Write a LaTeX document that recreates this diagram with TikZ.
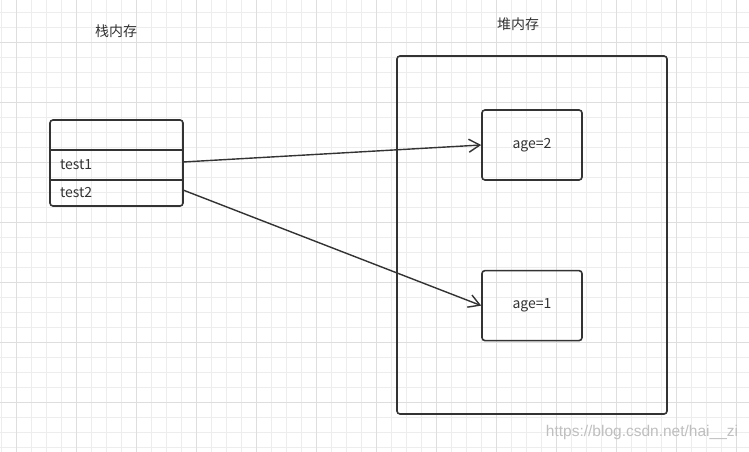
\documentclass[tikz,border=0pt]{standalone}
\usepackage{fontspec}
\setmainfont{Noto Sans CJK SC}
\newfontfamily\urlfont{Liberation Sans}
\usetikzlibrary{arrows.meta,positioning,fit}

\begin{document}
\begin{tikzpicture}[
    x=1pt, y=-1pt,
    font=\fontsize{14}{16}\selectfont,
    minorline/.style={draw=black!7, line width=0.8pt},
    majorline/.style={draw=black!13, line width=0.9pt},
    frame/.style={rectangle, draw=black!80, line width=1.6pt, rounded corners=3pt},
    cell/.style={rectangle, text width=113pt, inner xsep=10pt, inner ysep=0pt, outer sep=0pt, minimum height=30pt, align=left},
    valbox/.style={frame, minimum width=100pt, minimum height=70pt},
    ref/.style={-{Straight Barb[length=11pt,width=13pt]}, draw=black!80, line width=1.4pt}
]
    % Background grid
    \useasboundingbox (0,0) rectangle (749,452);
    \fill[white] (0,0) rectangle (749,452);
    \foreach \gx in {1.7,16.7,...,749} \draw[minorline] (\gx,0) -- (\gx,452);
    \foreach \gy in {12,27,...,452} \draw[minorline] (0,\gy) -- (749,\gy);
    \foreach \gx in {16.7,76.7,...,749} \draw[majorline] (\gx,0) -- (\gx,452);
    \foreach \gy in {42,102,...,452} \draw[majorline] (0,\gy) -- (749,\gy);

    % Stack
    \node[text=black!80] (stacklabel) at (116,31) {栈内存};
    \node[cell] (head) at (116.5,135) {};
    \node[cell, below=0pt of head, text=black!80] (t1) {test1};
    \node[cell, below=0pt of t1, minimum height=26pt, text=black!80] (t2) {test2};
    \node[frame, fit=(head)(t2), inner sep=0pt] (stack) {};
    \draw[draw=black!80, line width=1.6pt] (t1.north west) -- (t1.north east);
    \draw[draw=black!80, line width=1.6pt] (t2.north west) -- (t2.north east);

    % Heap
    \node[text=black!80] (heaplabel) at (518,24) {堆内存};
    \node[frame, minimum width=270pt, minimum height=358pt] (heap) at (532,235) {};
    \node[valbox, text=black!80] (age2) at (532,145) {age=2};
    \node[valbox, below=89pt of age2, text=black!80] (age1) {age=1};

    % References
    \draw[ref] ([yshift=3pt]t1.east) -- (age2.west);
    \draw[ref] ([yshift=3pt]t2.east) -- (age1.west);

    \node[text=black!25, font=\urlfont\fontsize{15.5}{17}\selectfont] (mark) at (642,432) {https://blog.csdn.net/hai\_\_zi};
\end{tikzpicture}
\end{document}
